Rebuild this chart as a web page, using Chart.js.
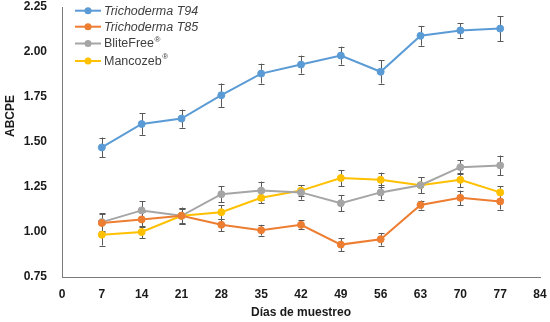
<!DOCTYPE html>
<html>
<head>
<meta charset="utf-8">
<script src="https://cdn.jsdelivr.net/npm/chart.js@4.4.0/dist/chart.umd.min.js"></script>
<style>
  html, body { margin: 0; padding: 0; background: #fff; }
  #wrap { width: 550px; height: 322px; }
</style>
</head>
<body>
<div id="wrap"><canvas id="c" width="550" height="322"></canvas></div>
<script>
// ---- data ----
const days = [7, 14, 21, 28, 35, 42, 49, 56, 63, 70, 77];
const xTicks = [0, 7, 14, 21, 28, 35, 42, 49, 56, 63, 70, 77, 84];
const yTicks = [0.75, 1.00, 1.25, 1.50, 1.75, 2.00, 2.25];

const labelT94 = 'Trichoderma T94';
const valuesT94 = [1.47, 1.60, 1.63, 1.76, 1.88, 1.93, 1.98, 1.89, 2.09, 2.12, 2.13];
const errT94    = [0.055, 0.06, 0.05, 0.065, 0.055, 0.05, 0.05, 0.065, 0.055, 0.04, 0.07];

const labelT85 = 'Trichoderma T85';
const valuesT85 = [1.05, 1.07, 1.09, 1.04, 1.01, 1.04, 0.93, 0.96, 1.15, 1.19, 1.17];
const errT85    = [0.05, 0.04, 0.04, 0.035, 0.03, 0.025, 0.035, 0.035, 0.025, 0.04, 0.045];

const labelBlite = 'BliteFree®';
const valuesBlite = [1.055, 1.12, 1.09, 1.21, 1.23, 1.22, 1.16, 1.22, 1.26, 1.36, 1.37];
const errBlite    = [0.05, 0.05, 0.045, 0.045, 0.05, 0.04, 0.045, 0.04, 0.045, 0.04, 0.055];

const labelManco = 'Mancozeb®';
const valuesManco = [0.985, 1.00, 1.09, 1.11, 1.19, 1.23, 1.30, 1.29, 1.26, 1.29, 1.22];
const errManco    = [0.06, 0.035, 0.045, 0.04, 0.03, 0.03, 0.045, 0.04, 0.045, 0.04, 0.035];

const xTitle = 'Días de muestreo';
const yTitle = 'ABCPE';

// ---- build datasets ----
function pts(vals) { return days.map((d, i) => ({ x: d, y: vals[i] })); }
function ds(label, vals, errs, color) {
  return {
    label, data: pts(vals), errors: errs,
    borderColor: color, backgroundColor: color,
    borderWidth: 2, pointRadius: 3.5, pointHoverRadius: 3.5,
    pointBorderWidth: 1, pointBorderColor: color, pointBackgroundColor: color,
    tension: 0, fill: false
  };
}
const datasets = [
  ds(labelT94, valuesT94, errT94, '#5B9BD5'),
  ds(labelT85, valuesT85, errT85, '#ED7D31'),
  ds(labelBlite, valuesBlite, errBlite, '#A5A5A5'),
  ds(labelManco, valuesManco, errManco, '#FFC000')
];

const FONT = "'Liberation Sans', Arial, sans-serif";

// error bars through the chart scales
const errorBars = {
  id: 'errorBars',
  beforeDatasetsDraw(chart) {
    const { ctx, scales: { x, y } } = chart;
    ctx.save();
    ctx.strokeStyle = '#595959';
    ctx.lineWidth = 1;
    chart.data.datasets.forEach(d => {
      d.data.forEach((p, i) => {
        const e = d.errors[i];
        const px = Math.round(x.getPixelForValue(p.x)) + 0.5;
        const top = y.getPixelForValue(p.y + e);
        const bot = y.getPixelForValue(p.y - e);
        ctx.beginPath();
        ctx.moveTo(px, top); ctx.lineTo(px, bot);
        ctx.moveTo(px - 3, Math.round(top) + 0.5); ctx.lineTo(px + 3, Math.round(top) + 0.5);
        ctx.moveTo(px - 3, Math.round(bot) + 0.5); ctx.lineTo(px + 3, Math.round(bot) + 0.5);
        ctx.stroke();
      });
    });
    ctx.restore();
  }
};

// legend + axis titles
const decorations = {
  id: 'decorations',
  afterDraw(chart) {
    const { ctx, scales: { x, y } } = chart;
    ctx.save();
    ctx.fillStyle = '#1a1a1a';
    ctx.font = 'bold 12px ' + FONT;
    ctx.textAlign = 'center';
    ctx.textBaseline = 'middle';
    ctx.fillText(xTitle, (x.left + x.right) / 2, 313);
    ctx.translate(11, 116);
    ctx.rotate(-Math.PI / 2);
    ctx.fillText(yTitle, 0, 0);
    ctx.restore();

    ctx.save();
    const rows = [10.7, 26.7, 43.5, 61];
    chart.data.datasets.forEach((d, i) => {
      const cy = rows[i];
      ctx.strokeStyle = d.borderColor;
      ctx.lineWidth = 2;
      ctx.beginPath();
      ctx.moveTo(75, cy); ctx.lineTo(101, cy);
      ctx.stroke();
      ctx.fillStyle = d.borderColor;
      ctx.beginPath();
      ctx.arc(88, cy, 3.5, 0, Math.PI * 2);
      ctx.fill();
      let label = d.label;
      const italic = label.startsWith('Trichoderma');
      let sup = '';
      if (label.endsWith('®')) { sup = '®'; label = label.slice(0, -1); }
      ctx.fillStyle = '#404040';
      ctx.textAlign = 'left';
      ctx.textBaseline = 'middle';
      ctx.font = (italic ? 'italic ' : '') + '12.5px ' + FONT;
      ctx.fillText(label, 104, cy + 0.5);
      if (sup) {
        const w = ctx.measureText(label).width;
        ctx.font = '8px ' + FONT;
        ctx.fillText(sup, 104 + w + 0.5, cy - 4);
      }
    });
    ctx.restore();
  }
};

new Chart(document.getElementById('c'), {
  type: 'line',
  data: { datasets },
  options: {
    responsive: false,
    animation: false,
    devicePixelRatio: 1,
    layout: { padding: { top: 7, right: 10, left: 0, bottom: 0 } },
    plugins: { legend: { display: false }, tooltip: { enabled: false } },
    scales: {
      x: {
        type: 'linear', min: 0, max: 84,
        afterBuildTicks(s) { s.ticks = xTicks.map(v => ({ value: v })); },
        afterFit(s) { s.height = 45; s.paddingLeft = 0; s.paddingRight = 0; },
        grid: { display: false, drawTicks: false },
        border: { display: true, color: '#7a7a7a', width: 1 },
        ticks: { padding: 10, color: '#1a1a1a', font: { family: FONT, size: 12, weight: 'bold' }, maxRotation: 0 }
      },
      y: {
        type: 'linear', min: 0.75, max: 2.25,
        afterBuildTicks(s) { s.ticks = yTicks.map(v => ({ value: v })); },
        afterFit(s) { s.width = 62; s.paddingTop = 0; s.paddingBottom = 0; },
        grid: { display: false, drawTicks: false },
        border: { display: true, color: '#7a7a7a', width: 1 },
        ticks: { padding: 15, color: '#1a1a1a', font: { family: FONT, size: 12, weight: 'bold' },
                 callback: v => Number(v).toFixed(2) }
      }
    }
  },
  plugins: [errorBars, decorations]
});
</script>
</body>
</html>
